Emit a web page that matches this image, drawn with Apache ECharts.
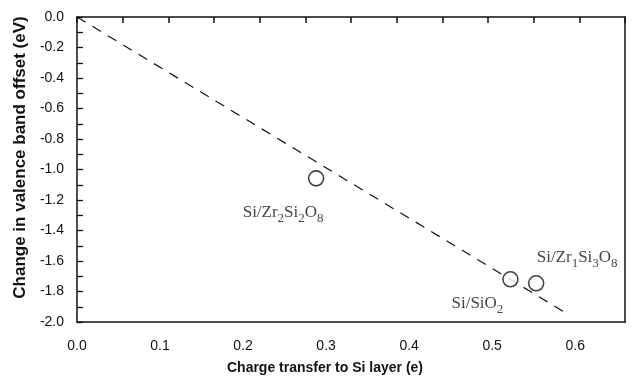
<!DOCTYPE html>
<html>
<head>
<meta charset="utf-8">
<script src="https://cdn.jsdelivr.net/npm/echarts@6/dist/echarts.min.js"></script>
<style>
  html, body { margin: 0; padding: 0; background: #fff; }
  #chart { width: 636px; height: 385px; }
</style>
</head>
<body>
<div id="chart"></div>
<script>
// points
var pointX = [0.288, 0.522, 0.553];
var pointY = [-1.058, -1.72, -1.746];
// rich-text names of the interfaces
var pointNames = [
    '{m|Si/Zr}{s|2}{m|Si}{s|2}{m|O}{s|8}',
    '{m|Si/SiO}{s|2}',
    '{m|Si/Zr}{s|1}{m|Si}{s|3}{m|O}{s|8}'
];
var labelOffsets = [[-33, 36], [-33, 26], [41, -24]];

// dashed guide line, start and end
var fitX = [0, 0.586];
var fitY = [0, -1.932];

var yTicks = [0, -0.2, -0.4, -0.6, -0.8, -1.0, -1.2, -1.4, -1.6, -1.8, -2.0];
var xTicks = [0, 0.1, 0.2, 0.3, 0.4, 0.5, 0.6];

var black = '#111';
// subscripts: main text gets bottom padding so the small digits sit lower
var rich = {
    m: { fontFamily: 'Liberation Serif', fontSize: 17, color: '#111', verticalAlign: 'bottom', padding: [0, 0, 4, 0] },
    s: { fontFamily: 'Liberation Serif', fontSize: 13, color: '#111', verticalAlign: 'bottom' }
};

var scatterData = pointX.map(function (x, i) {
    return {
        value: [x, pointY[i]],
        label: { show: true, position: 'inside', offset: labelOffsets[i], formatter: pointNames[i], rich: rich }
    };
});

var option = {
    animation: false,
    grid: { left: 77, top: 17, right: 11, bottom: 63, containLabel: false, outerBoundsMode: 'none' },
    xAxis: [{
        type: 'value', min: 0, max: 0.66, interval: 0.1,
        name: 'Charge transfer to Si layer (e)', nameLocation: 'middle', nameGap: 39,
        nameTextStyle: { fontFamily: 'Liberation Sans', fontWeight: 'bold', fontSize: 14, color: black, padding: [0, 52, 0, 0] },
        axisLine: { onZero: false, lineStyle: { color: black, width: 1.5 } },
        axisTick: { show: false },
        splitLine: { show: false },
        axisLabel: {
            showMaxLabel: false, margin: 17,
            fontFamily: 'Liberation Sans', fontSize: 14, color: black,
            formatter: function (v) { return xTicks.indexOf(Math.round(v * 10) / 10) >= 0 ? v.toFixed(1) : ''; }
        }
    }, {
        // top frame edge, ticks only (labels kept but invisible)
        type: 'value', position: 'top', min: 0, max: 0.66, interval: 0.055,
        axisLine: { show: true, onZero: false, lineStyle: { color: black, width: 1.5 } },
        axisTick: { show: true, inside: true, length: 6, lineStyle: { color: black, width: 1.5 } },
        axisLabel: { show: true, fontSize: 6, margin: 1, color: 'rgba(255,255,255,0)' },
        splitLine: { show: false }
    }],
    yAxis: [{
        type: 'value', min: -2, max: 0, interval: 0.2,
        name: 'Change in valence band offset (eV)', nameLocation: 'middle', nameGap: 48, nameRotate: 90,
        nameTextStyle: { fontFamily: 'Liberation Sans', fontWeight: 'bold', fontSize: 17, color: black, padding: [0, 0, 0, 24] },
        axisLine: { onZero: false, lineStyle: { color: black, width: 1.5 } },
        axisTick: { show: true, inside: true, length: 6, lineStyle: { color: black, width: 1.3 } },
        minorTick: { show: true, splitNumber: 2, length: 6, lineStyle: { color: black, width: 1.3 } },
        splitLine: { show: false },
        axisLabel: {
            margin: 13, fontFamily: 'Liberation Sans', fontSize: 14, color: black,
            formatter: function (v) { var t = yTicks.indexOf(Math.round(v * 10) / 10); return t >= 0 ? Math.abs(v) < 1e-9 ? '0.0' : v.toFixed(1) : ''; }
        }
    }, {
        type: 'value', position: 'right', min: -2, max: 0,
        axisLine: { show: true, onZero: false, lineStyle: { color: black, width: 1.5 } },
        axisTick: { show: false },
        axisLabel: { show: false },
        splitLine: { show: false }
    }],
    series: [{
        type: 'line',
        data: fitX.map(function (x, i) { return [x, fitY[i]]; }),
        symbol: 'none',
        silent: true,
        lineStyle: { color: black, width: 1.2, type: [10, 8] }
    }, {
        type: 'scatter',
        data: scatterData,
        symbol: 'circle',
        symbolSize: 15,
        itemStyle: { color: '#fff', borderColor: black, borderWidth: 1.6 },
        z: 3
    }]
};

var chart = echarts.init(document.getElementById('chart'));
chart.setOption(option);
</script>
</body>
</html>
